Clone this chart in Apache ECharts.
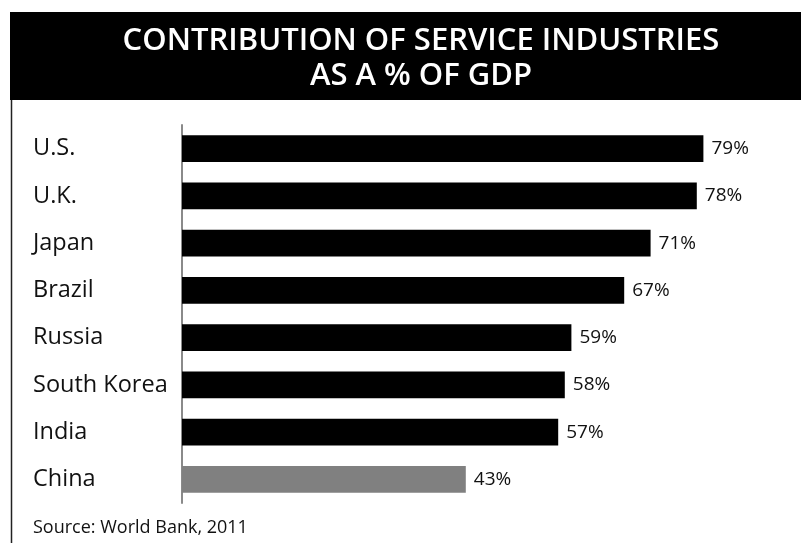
<!DOCTYPE html>
<html>
<head>
<meta charset="utf-8">
<script src="https://cdn.jsdelivr.net/npm/echarts@6/dist/echarts.min.js"></script>
<style>
  html, body { margin: 0; padding: 0; background: #fff; }
  #chart { width: 801px; height: 543px; }
</style>
</head>
<body>
<div id="chart"></div>
<script>
// data
const countries = ['U.S.', 'U.K.', 'Japan', 'Brazil', 'Russia', 'South Korea', 'India', 'China']
const shares = [79, 78, 71, 67, 59, 58, 57, 43]
const barColors = ['#000', '#000', '#000', '#000', '#000', '#000', '#000', '#808080']

const chart = echarts.init(document.getElementById('chart'))

const option = {
  backgroundColor: '#fff',
  animation: false,
  title: [
    {
      text: 'CONTRIBUTION OF SERVICE INDUSTRIES\nAS A % OF GDP',
      left: 416,
      top: 19,
      textAlign: 'center',
      textStyle: {
        color: '#fff',
        fontFamily: 'Open Sans',
        fontWeight: 600,
        fontSize: 31,
        lineHeight: 35
      }
    },
    {
      text: 'Source: World Bank, 2011',
      left: 28,
      top: 514,
      textStyle: {
        color: '#111',
        fontFamily: 'Open Sans',
        fontWeight: 'normal',
        fontSize: 18
      }
    }
  ],
  // banner and left frame line
  graphic: [
    {
      type: 'rect',
      z: -1,
      shape: { x: 10, y: 12, width: 791, height: 88 },
      style: { fill: '#000' }
    },
    {
      type: 'line',
      z: -1,
      shape: { x1: 11.5, y1: 100, x2: 11.5, y2: 543 },
      style: { stroke: '#222', lineWidth: 1.5 }
    }
  ],
  grid: {
    left: 182,
    top: 125,
    width: 528,
    height: 378,
    containLabel: false
  },
  xAxis: {
    type: 'value',
    min: 0,
    max: 80,
    show: false
  },
  yAxis: {
    type: 'category',
    inverse: true,
    data: countries,
    axisTick: { show: false },
    axisLine: { show: true, lineStyle: { color: '#8a8a8a', width: 2 } },
    axisLabel: {
      align: 'left',
      margin: 149,
      color: '#111',
      fontFamily: 'Open Sans',
      fontSize: 23.5
    },
    splitLine: { show: false }
  },
  series: [
    {
      type: 'bar',
      barCategoryGap: '43%',
      data: shares.map((v, i) => ({ value: v, itemStyle: { color: barColors[i] } })),
      label: {
        show: true,
        position: 'right',
        distance: 8,
        formatter: '{c}%',
        color: '#111',
        fontFamily: 'Open Sans',
        fontSize: 19
      }
    }
  ]
}

chart.setOption(option)
</script>
</body>
</html>
